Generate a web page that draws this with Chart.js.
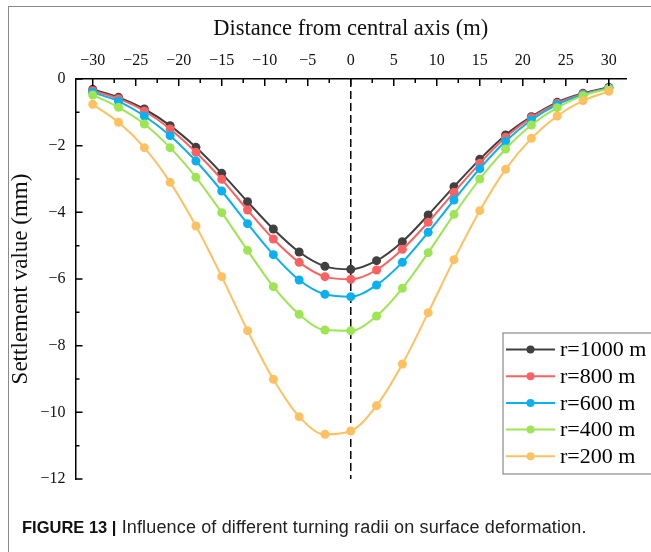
<!DOCTYPE html>
<html>
<head>
<meta charset="utf-8">
<script src="https://cdn.jsdelivr.net/npm/chart.js@4.4.0/dist/chart.umd.min.js"></script>
<style>
  body { margin: 0; background: #fff; }
  #wrap { position: relative; width: 651px; height: 552px; overflow: hidden; }
  #frame { position: absolute; left: 8px; top: 6px; width: 700px; height: 600px;
           border-left: 1px solid #8a8a8a; border-top: 1px solid #8a8a8a; }
  #chartBox { position: absolute; left: 0; top: 0; width: 651px; height: 552px; }
  #caption { position: absolute; left: 22px; top: 517px; font-family: "Liberation Sans", Arial, sans-serif;
             font-size: 18px; letter-spacing: 0.15px; color: #222; white-space: nowrap; }
  #caption b { color: #111; font-size: 16.5px; letter-spacing: 0; }
</style>
</head>
<body>
<div id="wrap">
  <div id="frame"></div>
  <div id="chartBox"><canvas id="settlementChart"></canvas></div>
  <div id="caption"><b>FIGURE 13 |</b> Influence of different turning radii on surface deformation.</div>
</div>
<script>
// distance from central axis (m)
const distance = [-30, -27, -24, -21, -18, -15, -12, -9, -6, -3, 0, 3, 6, 9, 12, 15, 18, 21, 24, 27, 30];

// settlement values (mm)
const r1000 = [-0.31, -0.55, -0.90, -1.40, -2.05, -2.83, -3.68, -4.50, -5.19, -5.62, -5.71,
               -5.45, -4.88, -4.08, -3.23, -2.41, -1.68, -1.13, -0.70, -0.43, -0.25];
const r800  = [-0.35, -0.59, -0.96, -1.50, -2.20, -3.01, -3.93, -4.80, -5.50, -5.93, -6.01,
               -5.73, -5.11, -4.30, -3.40, -2.53, -1.75, -1.16, -0.73, -0.45, -0.27];
const r600  = [-0.40, -0.67, -1.11, -1.70, -2.46, -3.36, -4.34, -5.27, -6.03, -6.46, -6.53,
               -6.18, -5.50, -4.60, -3.63, -2.69, -1.87, -1.23, -0.77, -0.47, -0.27];
const r400  = [-0.48, -0.85, -1.35, -2.06, -2.95, -4.01, -5.14, -6.23, -7.06, -7.53, -7.55,
               -7.11, -6.28, -5.21, -4.06, -3.00, -2.10, -1.38, -0.86, -0.50, -0.29];
const r200  = [-0.76, -1.30, -2.06, -3.10, -4.41, -5.93, -7.55, -9.01, -10.13, -10.66, -10.56,
               -9.80, -8.55, -7.01, -5.42, -3.95, -2.71, -1.78, -1.11, -0.65, -0.37];

const seriesLabels = ['r=1000 m', 'r=800 m', 'r=600 m', 'r=400 m', 'r=200 m'];
const seriesValues = [r1000, r800, r600, r400, r200];
const seriesColors = ['#404040', '#fb6161', '#0bb0ee', '#9de553', '#fdc161'];

const xTicks = [-30, -25, -20, -15, -10, -5, 0, 5, 10, 15, 20, 25, 30];
const yTicks = [0, -2, -4, -6, -8, -10, -12];

// dashed line marking the central axis
const axisLineX = [0, 0];
const axisLineY = [0, -12];

const serif = '"Liberation Serif", "Times New Roman", serif';

function minusFmt(v) {
  return v < 0 ? '\u2212' + Math.abs(v) : String(v);
}

function toPoints(xs, ys) {
  return xs.map((x, i) => ({ x: x, y: ys[i] }));
}

const datasets = seriesValues.map((vals, i) => ({
  label: seriesLabels[i],
  data: toPoints(distance, vals),
  borderColor: seriesColors[i],
  backgroundColor: seriesColors[i],
  borderWidth: 2,
  pointRadius: 4.5,
  pointBorderWidth: 0,
  pointBackgroundColor: seriesColors[i],
  cubicInterpolationMode: 'monotone',
  order: seriesValues.length - 1 - i
}));

datasets.push({
  label: 'axis',
  data: toPoints(axisLineX, axisLineY),
  borderColor: '#000',
  borderWidth: 1.5,
  borderDash: [8, 4],
  pointRadius: 0,
  order: 10
});

// inward tick marks (major + minor) like the original plot
const innerTicks = {
  id: 'innerTicks',
  afterDraw(chart) {
    const ctx = chart.ctx;
    const xs = chart.scales.x, ys = chart.scales.y;
    const top = chart.chartArea.top, left = chart.chartArea.left;
    ctx.save();
    ctx.strokeStyle = '#000';
    ctx.lineWidth = 1.5;
    ctx.beginPath();
    for (let v = -30; v <= 30; v += 2.5) {
      const px = xs.getPixelForValue(v);
      const len = (v % 5 === 0) ? 7 : 4;
      ctx.moveTo(px, top);
      ctx.lineTo(px, top + len);
    }
    for (let v = 0; v >= -12; v -= 1) {
      const py = ys.getPixelForValue(v);
      const len = (v % 2 === 0) ? 7 : 4;
      ctx.moveTo(left, py);
      ctx.lineTo(left + len, py);
    }
    ctx.stroke();
    ctx.restore();
  }
};

// legend with line + marker samples in a boxed frame
const boxLegend = {
  id: 'boxLegend',
  afterDraw(chart) {
    const ctx = chart.ctx;
    const bx = 503, by = 333, bw = 160, bh = 141;
    ctx.save();
    ctx.fillStyle = '#fff';
    ctx.fillRect(bx, by, bw, bh);
    ctx.strokeStyle = '#8a8a8a';
    ctx.lineWidth = 1.2;
    ctx.strokeRect(bx, by, bw, bh);
    ctx.font = '22px ' + serif;
    ctx.textBaseline = 'middle';
    seriesLabels.forEach((lab, i) => {
      const y = by + 16.5 + i * 26.7;
      ctx.strokeStyle = seriesColors[i];
      ctx.lineWidth = 2;
      ctx.beginPath();
      ctx.moveTo(506, y);
      ctx.lineTo(555, y);
      ctx.stroke();
      ctx.fillStyle = seriesColors[i];
      ctx.beginPath();
      ctx.arc(530.5, y, 4, 0, Math.PI * 2);
      ctx.fill();
      ctx.fillStyle = '#000';
      ctx.fillText(lab, 560, y + 1);
    });
    ctx.restore();
  }
};

new Chart(document.getElementById('settlementChart').getContext('2d'), {
  type: 'line',
  data: { datasets: datasets },
  options: {
    responsive: true,
    maintainAspectRatio: false,
    animation: false,
    layout: { padding: { left: 0, top: 0, right: 25, bottom: 73 } },
    plugins: {
      legend: { display: false },
      tooltip: { enabled: false }
    },
    scales: {
      x: {
        type: 'linear',
        position: 'top',
        min: -32,
        max: 32,
        afterBuildTicks: s => { s.ticks = xTicks.map(v => ({ value: v })); },
        afterFit: s => { s.height = 79; },
        grid: { display: false, drawTicks: false },
        border: { display: true, color: '#000', width: 1.5 },
        ticks: {
          padding: 9,
          color: '#111',
          font: { family: serif, size: 16 },
          callback: v => minusFmt(v),
          maxRotation: 0
        },
        title: {
          display: true,
          text: 'Distance from central axis (m)',
          color: '#111',
          font: { family: serif, size: 22.5 },
          padding: { top: 16, bottom: 0 }
        }
      },
      y: {
        type: 'linear',
        min: -12,
        max: 0,
        afterBuildTicks: s => { s.ticks = yTicks.map(v => ({ value: v })); },
        afterFit: s => { s.width = 75.5; },
        grid: { display: false, drawTicks: false },
        border: { display: true, color: '#000', width: 1.5 },
        ticks: {
          padding: 10,
          color: '#111',
          font: { family: serif, size: 16 },
          callback: v => minusFmt(v)
        },
        title: {
          display: true,
          text: 'Settlement value (mm)',
          color: '#111',
          font: { family: serif, size: 23 },
          padding: { top: 7, bottom: 0 }
        }
      }
    }
  },
  plugins: [innerTicks, boxLegend]
});
</script>
</body>
</html>
